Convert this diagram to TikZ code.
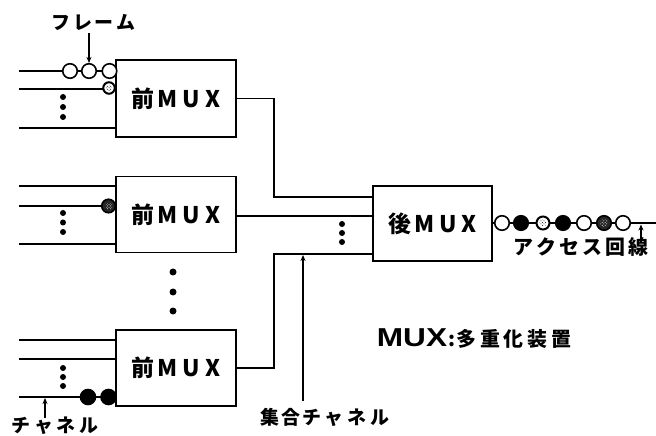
\documentclass[tikz,border=0pt]{standalone}
\usepackage{fontspec}
\usepackage{graphicx}
\newfontfamily\jp{Noto Sans CJK JP}
\newfontfamily\lsans{Liberation Sans}
\usetikzlibrary{arrows.meta,patterns}
\begin{document}
\begin{tikzpicture}[x=1bp,y=-1bp,line width=1.8bp,
  muxbox/.style={draw,line width=1.8bp,minimum width=120bp,minimum height=76bp,inner sep=0pt,
     font=\jp\bfseries\fontsize{23}{23}\selectfont},
  lbl/.style={inner sep=0pt,font=\jp\bfseries\fontsize{19}{19}\selectfont},
  wdot/.style={circle,draw,fill=white,line width=1.6bp,minimum size=14.5bp,inner sep=0pt},
  bdot/.style={circle,draw,fill=black,line width=1.6bp,minimum size=14.5bp,inner sep=0pt},
  hdot/.style={circle,draw,fill=white,line width=2bp,minimum size=13bp,inner sep=0pt},
  hin/.style={circle,pattern=crosshatch dots,minimum size=7bp,inner sep=0pt},
  ddot/.style={circle,draw,fill=black!85,line width=1.6bp,minimum size=14.5bp,inner sep=0pt},
  din/.style={circle,pattern=crosshatch dots,pattern color=white,minimum size=8bp,inner sep=0pt},
  sdot/.style={circle,fill=black,minimum size=6bp,inner sep=0pt},
  arr/.style={line width=1.3bp,-{Stealth[length=6bp,width=5bp]}}]
\useasboundingbox (0,0) rectangle (656,436);

% boxes
\node[muxbox,minimum height=77bp] (m1) at (176,98.5) {前\hspace{3bp}M\hspace{5bp}U\hspace{5bp}X};
\node[muxbox] (m2) at (176,214.5) {前\hspace{3bp}M\hspace{5bp}U\hspace{5bp}X};
\node[muxbox] (m3) at (176,368) {前\hspace{3bp}M\hspace{5bp}U\hspace{5bp}X};
\node[muxbox,minimum width=119bp,minimum height=75bp] (post) at (432.5,223.5) {後\hspace{3bp}M\hspace{5bp}U\hspace{5bp}X};

% connectors to back MUX
\coordinate (c1) at (274,197);
\coordinate (c3) at (274,254);
\draw (m1.east) -| (c1) -- (post.west |- c1);
\draw (m2.east |- 0,216) -- (post.west |- 0,216);
\draw (m3.east) -| (c3) -- (post.west |- c3);
\node[sdot] (d1) at (342,224) {};
\node[sdot] (d2) at (342,233) {};
\node[sdot] (d3) at (342,242) {};

% input lines box 1
\coordinate (a1) at (19,71);
\coordinate (a2) at (19,89);
\coordinate (a3) at (19,128);
\draw (a1) -- (m1.west |- a1);
\draw (a2) -- (m1.west |- a2);
\draw (a3) -- (m1.west |- a3);
\node[wdot] (f1) at (70,71) {};
\node[wdot] (f2) at (89,71) {};
\node[wdot] (f3) at (109.5,71) {};
\node[hdot,minimum size=11.5bp] (h1) at (109,88) {};
\node[hin,minimum size=6bp] at (109,88) {};
\node[sdot] at (63,97) {};
\node[sdot] at (63,107) {};
\node[sdot] at (63,117) {};
\node[lbl] (fl) at (93.5,22.5) {フ\hspace{3bp}レ\hspace{3bp}ー\hspace{3bp}ム};
\draw[arr] (89,33) -- (f2.north);

% input lines box 2
\coordinate (b1) at (19,186);
\coordinate (b2) at (19,206);
\coordinate (b3) at (19,244);
\draw (b1) -- (m2.west |- b1);
\draw (b2) -- (m2.west |- b2);
\draw (b3) -- (m2.west |- b3);
\node[ddot,minimum size=13.5bp] (h2) at (108.5,206) {};
\node[din,minimum size=7bp] at (109,206) {};
\node[sdot] at (63,213) {};
\node[sdot] at (63,222.5) {};
\node[sdot] at (63,232) {};

% vertical dots between boxes
\node[sdot,minimum size=7bp] at (173,272) {};
\node[sdot,minimum size=7bp] at (173,292) {};
\node[sdot,minimum size=7bp] at (173,311) {};

% input lines box 3
\coordinate (e1) at (19,340);
\coordinate (e2) at (19,359);
\coordinate (e3) at (19,397);
\draw (e1) -- (m3.west |- e1);
\draw (e2) -- (m3.west |- e2);
\draw (e3) -- (m3.west |- e3);
\node[bdot,minimum size=15bp] (k1) at (88,397) {};
\node[bdot,minimum size=15bp] (k2) at (108.5,397) {};
\node[sdot] at (63,368) {};
\node[sdot] at (63,377) {};
\node[sdot] at (63,386) {};
\node[lbl] (ch) at (55,426) {チ\hspace{4bp}ャ\hspace{4bp}ネ\hspace{4bp}ル};
\coordinate (chs) at (45,418);
\draw[arr] (chs) -- (45,398);

% aggregated channel label
\node[lbl] (sg) at (325,417) {集\hspace{2bp}合\hspace{2bp}チ\hspace{4bp}ャ\hspace{4bp}ネ\hspace{4bp}ル};
\coordinate (sgs) at (303,401);
\draw[arr,line width=1.2bp] (sgs) -- (303,255);

% output line
\coordinate (out) at (656,223);
\draw (post.east |- out) -- (out);
\node[wdot] (o1) at (502,223) {};
\node[bdot] (o2) at (521,223) {};
\node[hdot,minimum size=13bp] (o3) at (543,223) {};
\node[hin] at (543,223) {};
\node[bdot] (o4) at (563,223) {};
\node[wdot] (o5) at (584,223) {};
\node[ddot] (o6) at (604,223) {};
\node[din] at (604,223) {};
\node[wdot] (o7) at (623,223) {};
\node[lbl,font=\jp\bfseries\fontsize{20}{20}\selectfont] (ac) at (581,247) {ア\hspace{3bp}ク\hspace{3bp}セ\hspace{3bp}ス\hspace{3bp}回\hspace{3bp}線};
\draw[arr] (641,243) -- (641,224.5);

% legend
\node[inner sep=0pt,anchor=west] (lg) at (376,339) {\scalebox{1.22}[1]{\lsans\bfseries\fontsize{26}{26}\selectfont MUX}\hspace{1bp}{\jp\bfseries\fontsize{20}{20}\selectfont :\hspace{1bp}多\hspace{4bp}重\hspace{4bp}化\hspace{4bp}装\hspace{4bp}置}};
\end{tikzpicture}
\end{document}
